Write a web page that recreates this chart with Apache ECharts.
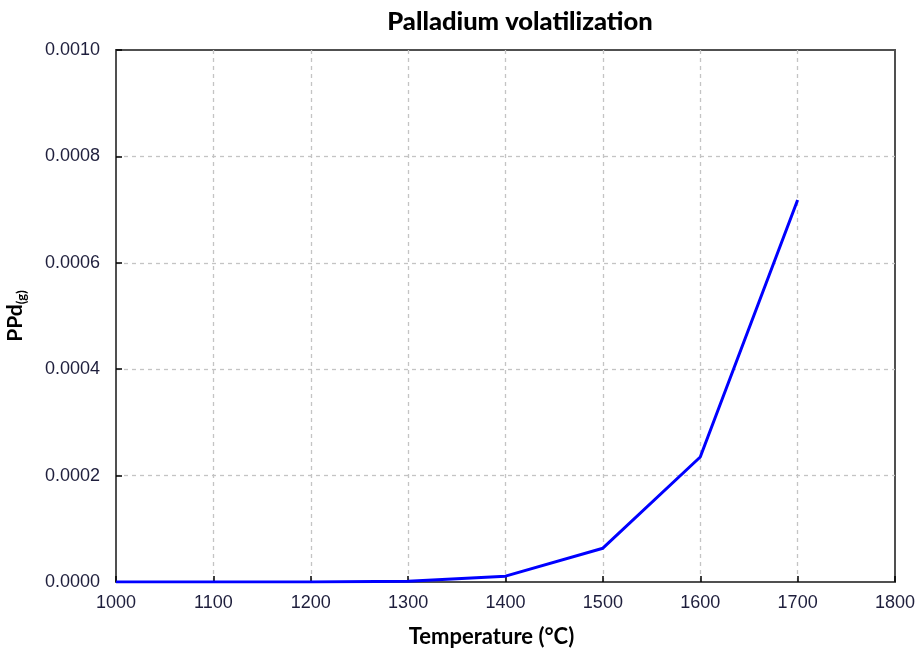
<!DOCTYPE html>
<html>
<head>
<meta charset="utf-8">
<script src="https://cdn.jsdelivr.net/npm/echarts@6/dist/echarts.min.js"></script>
<style>
  html, body { margin: 0; padding: 0; background: #fff; }
  #chart { width: 920px; height: 657px; }
</style>
</head>
<body>
<div id="chart"></div>
<script>
// temperature (°C) and partial pressure of Pd(g)
const temps = [1000, 1100, 1200, 1300, 1400, 1500, 1600, 1700]
const ppd = [0, 0, 0.0000002, 0.0000015, 0.000011, 0.0000635, 0.000235, 0.000718]

const chart = echarts.init(document.getElementById('chart'))
const labelFont = { fontFamily: 'Liberation Sans, Arial, sans-serif', fontSize: 18, color: '#1e1e3c' }
const boldFont = 'Lato, Open Sans, sans-serif'
const gridLine = { show: true, showMinLine: false, showMaxLine: false, lineStyle: { color: '#c4c4c4', type: [4, 4], width: 1.3 } }

const option = {
  animation: false,
  title: {
    text: 'Palladium volatilization',
    left: 515,
    textAlign: 'center',
    top: 4,
    textStyle: { fontFamily: boldFont, fontWeight: 900, fontSize: 25.5, color: '#000' }
  },
  grid: {
    left: 116, right: 25, top: 50, bottom: 75,
    outerBoundsMode: 'none',
    containLabel: false,
    show: true, borderColor: '#505050', borderWidth: 2, backgroundColor: '#fff'
  },
  xAxis: {
    type: 'value',
    min: 1000, max: 1800, interval: 100,
    name: 'Temperature (°C)',
    nameLocation: 'middle',
    nameGap: 44,
    nameTextStyle: { fontFamily: boldFont, fontWeight: 'bold', fontSize: 22, color: '#000', padding: [0, 28, 0, 0] },
    axisLine: { show: true, lineStyle: { color: '#505050', width: 2 } },
    axisTick: { show: true, inside: true, length: 6, lineStyle: { color: '#000', width: 1.5 } },
    axisLabel: Object.assign({ margin: 12, formatter: v => String(v) }, labelFont),
    splitLine: gridLine
  },
  yAxis: {
    type: 'value',
    min: 0, max: 0.001, interval: 0.0002,
    name: '{m|PPd}{s|(g)}',
    nameLocation: 'middle',
    nameRotate: 90,
    nameGap: 88,
    nameTextStyle: {
      rich: {
        m: { fontFamily: boldFont, fontWeight: 'bold', fontSize: 21, color: '#000' },
        s: { fontFamily: boldFont, fontWeight: 'bold', fontSize: 13, color: '#000', padding: [12, 0, 0, 0] }
      }
    },
    axisLine: { show: true, lineStyle: { color: '#505050', width: 2 } },
    axisTick: { show: true, inside: true, length: 6, lineStyle: { color: '#000', width: 1.5 } },
    axisLabel: Object.assign({ margin: 16, formatter: v => v.toFixed(4) }, labelFont),
    splitLine: gridLine
  },
  series: [
    {
      type: 'line',
      data: temps.map((t, i) => [t, ppd[i]]),
      showSymbol: false,
      lineStyle: { color: '#0000ff', width: 3 },
      z: 3
    }
  ]
}
chart.setOption(option)
</script>
</body>
</html>
